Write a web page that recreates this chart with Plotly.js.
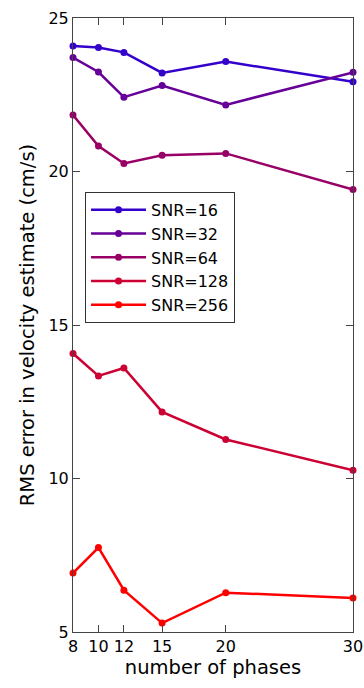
<!DOCTYPE html>
<html>
<head>
<meta charset="utf-8">
<script src="https://cdn.plot.ly/plotly-3.0.1.min.js"></script>
<style>html,body{margin:0;padding:0;background:#fff;}#chart{width:364px;height:688px;}</style>
</head>
<body>
<div id="chart"></div>
<script>
const phases = [8, 10, 12, 15, 20, 30];
const snr16 = [24.09, 24.04, 23.88, 23.21, 23.58, 22.92];
const snr32 = [23.71, 23.24, 22.42, 22.80, 22.17, 23.23];
const snr64 = [21.84, 20.83, 20.26, 20.53, 20.59, 19.41];
const snr128 = [14.07, 13.34, 13.60, 12.17, 11.27, 10.27];
const snr256 = [6.92, 7.75, 6.36, 5.29, 6.28, 6.11];
const seriesNames = ['SNR=16', 'SNR=32', 'SNR=64', 'SNR=128', 'SNR=256'];
const seriesColors = ['rgb(51,0,204)', 'rgb(102,0,153)', 'rgb(153,0,102)', 'rgb(204,0,51)', 'rgb(255,0,0)'];
const xTicks = [8, 10, 12, 15, 20, 30];
const yTicks = [5, 10, 15, 20, 25];

const allSeries = [snr16, snr32, snr64, snr128, snr256];
const traces = allSeries.map((ys, i) => ({
  x: phases, y: ys, name: seriesNames[i], type: 'scatter', mode: 'lines+markers',
  line: {color: seriesColors[i], width: 2.5},
  marker: {color: seriesColors[i], size: 7},
  cliponaxis: false
}));

const fam = 'DejaVu Sans';
const layout = {
  width: 364, height: 688,
  margin: {l: 73, r: 11, t: 18, b: 56},
  paper_bgcolor: '#fff', plot_bgcolor: '#fff',
  font: {family: fam, size: 16, color: '#000'},
  showlegend: true,
  legend: {x: 0.043, y: 0.717, xanchor: 'left', yanchor: 'top',
    bordercolor: '#333', borderwidth: 1, bgcolor: '#fff',
    font: {family: fam, size: 16, color: '#000'}, tracegroupgap: 0,
    itemwidth: 55},
  xaxis: {range: [8, 30], tickvals: xTicks, ticktext: xTicks.map(String),
    ticks: 'inside', ticklen: 7, tickcolor: '#444', mirror: 'ticks',
    showline: true, linecolor: '#444', linewidth: 1, showgrid: false, zeroline: false,
    tickfont: {family: fam, size: 16},
    title: {text: 'number of phases', font: {family: fam, size: 19.5}, standoff: 2}},
  yaxis: {range: [5, 25], tickvals: yTicks, ticktext: yTicks.map(String),
    ticks: 'inside', ticklen: 7, tickcolor: '#444', mirror: 'ticks',
    showline: true, linecolor: '#444', linewidth: 1, showgrid: false, zeroline: false,
    tickfont: {family: fam, size: 16},
    title: {text: 'RMS error in velocity estimate (cm/s)', font: {family: fam, size: 19.5}, standoff: 8}}
};
Plotly.newPlot('chart', traces, layout, {displayModeBar: false, staticPlot: true});
</script>
</body>
</html>
